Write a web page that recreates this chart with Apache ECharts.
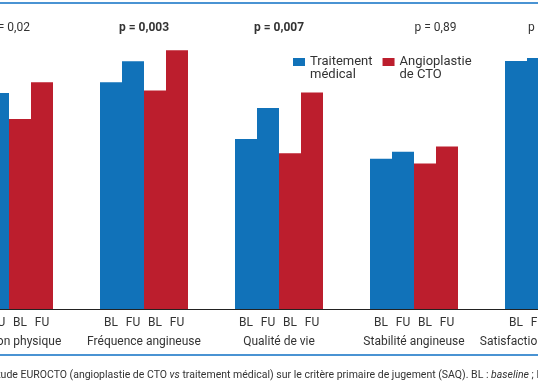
<!DOCTYPE html>
<html>
<head>
<meta charset="utf-8">
<script src="https://cdn.jsdelivr.net/npm/echarts@6/dist/echarts.min.js"></script>
<style>
html,body{margin:0;padding:0;background:#fff;}
#chart{width:538px;height:384px;}
</style>
</head>
<body>
<div id="chart"></div>
<script>
const categories = ['Limitation physique', 'Fréquence angineuse', 'Qualité de vie', 'Stabilité angineuse', 'Satisfaction du traitement'];
const pValues = ['p = 0,02', 'p = 0,003', 'p = 0,007', 'p = 0,89', 'p = 0,38'];
const significant = [false, true, true, false, false];
const timeLabels = ['BL', 'FU'];
const seriesNames = ['Traitement\nmédical', 'Angioplastie\nde CTO'];
const medicalBL = [74.0, 81.0, 60.7, 53.7, 88.6];
const medicalFU = [77.1, 88.5, 71.8, 56.2, 89.6];
const ctoBL = [67.9, 78.0, 55.6, 52.0, 87.0];
const ctoFU = [81.0, 92.4, 77.3, 58.0, 91.0];
const caption = "Résultats de l'étude EUROCTO (angioplastie de CTO {i|vs} traitement médical) sur le critère primaire de jugement (SAQ). BL : {i|baseline} ; FU : {i|follow-up}.";

const BLUE = '#1172b9';
const RED = '#bc1e2d';
const TXT = '#333333';
const FONT = 'Roboto';

const chart = echarts.init(document.getElementById('chart'), null, {renderer: 'canvas'});

function barSeries(name, data, color, tl) {
  return {
    type: 'bar',
    name: name,
    data: data,
    barWidth: 22,
    barGap: '0%',
    xAxisIndex: 0,
    yAxisIndex: 0,
    itemStyle: {color: color},
    label: {
      show: true,
      position: 'insideBottom',
      distance: 0,
      offset: [0, 20],
      formatter: tl,
      color: TXT,
      fontFamily: FONT,
      fontSize: 12
    },
    emphasis: {disabled: true}
  };
}

const option = {
  animation: false,
  backgroundColor: '#fff',
  textStyle: {fontFamily: FONT},
  grid: {left: -58.5, right: -78.5, top: 29, bottom: 75, containLabel: false, outerBoundsMode: 'none'},
  legend: {
    data: seriesNames,
    left: 288,
    top: 38,
    itemWidth: 12,
    itemHeight: 8,
    itemGap: 10,
    icon: 'rect',
    selectedMode: false,
    formatter: function (name) { return '\u00a0\n' + name; },
    textStyle: {color: TXT, fontFamily: FONT, fontSize: 13, lineHeight: 12.5}
  },
  xAxis: [
    {
      type: 'category',
      data: categories,
      position: 'bottom',
      axisLine: {show: true, lineStyle: {color: '#222', width: 1}},
      axisTick: {show: false},
      axisLabel: {color: TXT, fontFamily: FONT, fontSize: 12, margin: 27, interval: 0}
    },
    {
      type: 'category',
      data: categories,
      position: 'top',
      axisLine: {show: false},
      axisTick: {show: false},
      axisLabel: {
        interval: 0,
        margin: 1,
        verticalAlign: 'middle',
        formatter: function (v, i) {
          if (significant[i]) return '{b|' + pValues[i] + '}';
          if (i === 3) return '{s|' + pValues[i] + '}';
          return '{n|' + pValues[i] + '}';
        },
        rich: {
          b: {color: TXT, fontFamily: FONT, fontSize: 12, fontWeight: 'bold'},
          n: {color: TXT, fontFamily: FONT, fontSize: 12},
          s: {color: TXT, fontFamily: FONT, fontSize: 12, padding: [0, 0, 0, 43]}
        }
      }
    }
  ],
  yAxis: {type: 'value', min: 0, max: 100, show: false},
  series: [
    barSeries(seriesNames[0], medicalBL, BLUE, timeLabels[0]),
    barSeries(seriesNames[0], medicalFU, BLUE, timeLabels[1]),
    barSeries(seriesNames[1], ctoBL, RED, timeLabels[0]),
    barSeries(seriesNames[1], ctoFU, RED, timeLabels[1])
  ],
  graphic: [
    {type: 'rect', shape: {x: 0, y: 2, width: 538, height: 2}, style: {fill: '#4a93d3'}, silent: true},
    {type: 'rect', shape: {x: 0, y: 354, width: 538, height: 2}, style: {fill: '#4a93d3'}, silent: true},
    {
      type: 'text',
      x: -73,
      y: 370,
      silent: true,
      style: {
        text: caption,
        fill: TXT,
        font: '10.5px ' + FONT,
        rich: {i: {fontStyle: 'italic', fontFamily: FONT, fontSize: 10.5, fill: TXT}}
      }
    }
  ]
};
chart.setOption(option);
</script>
</body>
</html>
